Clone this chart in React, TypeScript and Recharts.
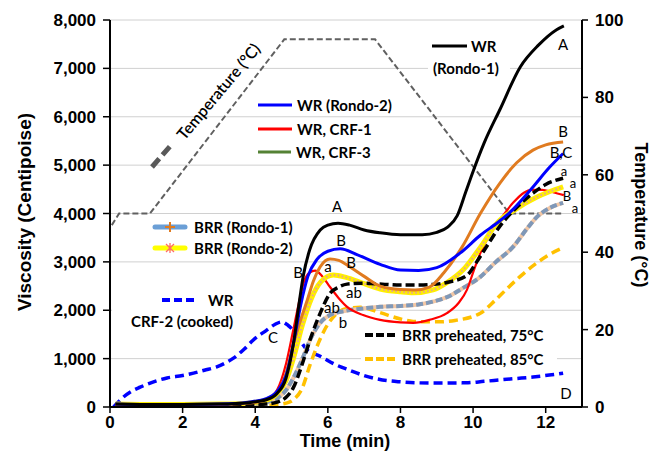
import React from 'react';
import { LineChart, Line, XAxis, YAxis, CartesianGrid } from 'recharts';

// ---- tick labels ----
const timeTicks = [0, 2, 4, 6, 8, 10, 12];
const viscosityTicks = [0, 1000, 2000, 3000, 4000, 5000, 6000, 7000, 8000];
const temperatureTicks = [0, 20, 40, 60, 80, 100];

// ---- series: [time (min), viscosity (cP)] ----
const wrRondo1: number[][] = [
  [0.15, 60], [1, 50], [2, 50], [3, 60], [3.8, 90], [4.3, 150], [4.6, 280], [4.85, 600], [5.05, 1300],
  [5.2, 2100], [5.32, 2700], [5.5, 3250], [5.79, 3660], [6.0, 3760], [6.28, 3800], [6.6, 3760], [7.0, 3660],
  [7.44, 3600], [8.0, 3560], [8.6, 3560], [9.0, 3610], [9.3, 3720], [9.56, 3950], [9.8, 4450], [10.0, 4870],
  [10.3, 5450], [10.74, 6150], [11.3, 7030], [11.8, 7480], [12.3, 7800], [12.5, 7880],
];
const wrRondo2: number[][] = [
  [0.15, 60], [1, 50], [2, 50], [3, 60], [3.8, 100], [4.3, 170], [4.6, 320], [4.85, 650], [5.05, 1300],
  [5.25, 2100], [5.45, 2700], [5.7, 3050], [6.0, 3220], [6.34, 3270], [6.8, 3150], [7.44, 2950], [8.0, 2830],
  [8.5, 2820], [9.0, 2880], [9.64, 3180], [10.2, 3550], [10.74, 3850], [11.05, 4050], [11.65, 4550],
  [12.1, 4950], [12.48, 5240],
];
const wrCrf1: number[][] = [
  [0.15, 40], [1, 30], [2, 30], [3, 40], [3.8, 70], [4.3, 150], [4.6, 350], [4.85, 900], [5.05, 1600],
  [5.23, 2250], [5.35, 2600], [5.5, 2780], [5.65, 2820], [5.85, 2700], [6.06, 2480], [6.3, 2250], [6.53, 2070],
  [6.97, 1900], [7.44, 1800], [8.0, 1750], [8.35, 1740], [8.8, 1800], [9.28, 1940], [9.6, 2150], [9.83, 2420],
  [10.0, 2780], [10.2, 3180], [10.45, 3550], [10.74, 3870], [11.1, 4220], [11.4, 4430], [11.6, 4490],
  [11.9, 4490], [12.2, 4440], [12.5, 4380],
];
const wrCrf3: number[][] = [
  [0.15, 50], [1, 40], [2, 40], [3, 50], [3.8, 80], [4.3, 150], [4.6, 300], [4.85, 700], [5.05, 1300],
  [5.25, 1800], [5.43, 2200], [5.6, 2600], [5.79, 2900], [6.06, 3060], [6.3, 3030], [6.6, 2900], [7.0, 2700],
  [7.44, 2500], [8.0, 2430], [8.4, 2420], [8.8, 2480], [9.2, 2780], [9.7, 3310], [10.2, 4000], [10.74, 4630],
  [11.2, 5050], [11.65, 5310], [12.0, 5420], [12.48, 5480],
];
const brrRondo1: number[][] = [
  [0.15, 40], [1, 30], [2, 30], [3, 40], [3.8, 60], [4.3, 100], [4.6, 180], [4.85, 350], [5.05, 600],
  [5.3, 1000], [5.55, 1450], [5.8, 1750], [6.06, 1900], [6.5, 1990], [7.0, 2040], [7.44, 2070], [8.0, 2090],
  [8.5, 2120], [9.0, 2200], [9.28, 2270], [9.7, 2450], [10.2, 2690], [10.6, 2980], [11.1, 3310], [11.5, 3700],
  [11.76, 3930], [12.1, 4110], [12.48, 4220],
];
const brrRondo2: number[][] = [
  [0.15, 60], [1, 50], [2, 50], [3, 60], [3.8, 80], [4.3, 140], [4.6, 280], [4.85, 550], [5.05, 1000],
  [5.3, 1700], [5.55, 2250], [5.8, 2580], [6.15, 2730], [6.5, 2680], [7.0, 2550], [7.44, 2440], [8.0, 2380],
  [8.35, 2360], [8.9, 2420], [9.3, 2580], [9.72, 2830], [10.2, 3300], [10.66, 3800], [11.2, 4100],
  [11.76, 4340], [12.1, 4450], [12.48, 4550],
];
const brrPre75: number[][] = [
  [0.15, 30], [1, 20], [2, 20], [3, 30], [3.8, 40], [4.3, 60], [4.6, 100], [4.85, 200], [5.05, 400],
  [5.3, 900], [5.51, 1390], [5.79, 1940], [6.06, 2350], [6.3, 2480], [6.53, 2540], [7.0, 2560], [7.5, 2540],
  [8.0, 2520], [8.5, 2520], [9.0, 2540], [9.3, 2580], [9.83, 2720], [10.1, 3000], [10.4, 3350], [10.75, 3750],
  [11.1, 4050], [11.65, 4420], [12.0, 4600], [12.48, 4730],
];
const brrPre85: number[][] = [
  [0.15, 20], [1, 15], [2, 15], [3, 20], [3.8, 25], [4.3, 35], [4.6, 50], [4.85, 80], [5.05, 150],
  [5.3, 400], [5.5, 850], [5.7, 1250], [5.9, 1580], [6.15, 1860], [6.5, 2030], [6.9, 2060], [7.44, 1950],
  [8.0, 1820], [8.35, 1770], [9.0, 1760], [9.5, 1790], [10.2, 1940], [10.6, 2200], [10.9, 2420], [11.3, 2700],
  [11.76, 2980], [12.1, 3150], [12.5, 3300],
];
const wrCrf2Cooked: number[][] = [
  [0.1, 0], [0.2, 80], [0.36, 200], [0.6, 330], [0.83, 410], [1.2, 520], [1.57, 600], [2.0, 650], [2.3, 700],
  [2.6, 760], [2.94, 830], [3.2, 920], [3.4, 1010], [3.7, 1200], [3.94, 1380], [4.3, 1580], [4.55, 1710],
  [4.73, 1760], [4.9, 1690], [5.04, 1590], [5.23, 1380], [5.43, 1180], [5.79, 1050], [6.2, 880], [6.6, 760],
  [7.0, 650], [7.5, 560], [8.0, 520], [8.45, 500], [9.0, 495], [9.8, 500], [10.3, 530], [10.74, 560],
  [11.2, 590], [11.65, 620], [12.1, 660], [12.48, 700],
];
// [time (min), temperature (°C)]
const temperature: number[][] = [
  [0.05, 47], [0.25, 50], [1.1, 50], [4.8, 95], [7.3, 95], [11.0, 50], [12.5, 50],
];

const pts = (arr: number[][], key: string) => arr.map(([t, v]) => ({ t, [key]: v }));

const TICK_FONT = { fontFamily: 'Liberation Sans, Arial, sans-serif', fontWeight: 700, fontSize: 17, fill: '#000' };
const NOTE_FONT = 'Lato, Calibri, sans-serif';

const notes: [string, number, number][] = [
  ['A', 563, 44], ['A', 337, 206], ['B', 341, 240], ['B', 298, 272], ['a', 328, 266], ['B', 351, 262],
  ['ab', 354, 292], ['ab', 332, 307], ['b', 343, 322], ['C', 273, 337], ['D', 566, 393],
  ['B', 563, 131], ['B,C', 561, 152],
];
const sideNotes: [string, number, number][] = [
  ['a', 564, 171], ['a', 573, 183], ['B', 567, 196], ['a', 575, 208],
];

function Overlay() {
  const lt = { fontFamily: NOTE_FONT, fontWeight: 700, fontSize: 15, fill: '#000' } as const;
  return (
    <svg width={656} height={462} style={{ position: 'absolute', left: 0, top: 0, pointerEvents: 'none' }}>
      {/* axis titles */}
      <text x={24} y={212} transform="rotate(-90 24 212)" textAnchor="middle" dominantBaseline="central"
        style={{ fontFamily: 'Liberation Sans, Arial, sans-serif', fontWeight: 700, fontSize: 19 }}>Viscosity (Centipoise)</text>
      <text x={641} y={215} transform="rotate(90 641 215)" textAnchor="middle" dominantBaseline="central"
        style={{ fontFamily: 'Liberation Sans, Arial, sans-serif', fontWeight: 700, fontSize: 18 }}>Temperature (°C)</text>
      <text x={345} y={441} textAnchor="middle" dominantBaseline="central"
        style={{ fontFamily: 'Liberation Sans, Arial, sans-serif', fontWeight: 700, fontSize: 18 }}>Time (min)</text>

      {/* temperature label */}
      <line x1={152} y1={167} x2={173} y2={143} stroke="#595959" strokeWidth={5} strokeDasharray="11 5" />
      <text x={218} y={91} transform="rotate(-50 218 91)" textAnchor="middle" dominantBaseline="central"
        style={{ fontFamily: NOTE_FONT, fontSize: 16, fontWeight: 600, fill: '#000' }}>Temperature (°C)</text>

      {/* WR (Rondo-1) */}
      <rect x={428} y={58} width={82} height={21} fill="#fff" />
      <line x1={432} y1={46} x2={467} y2={46} stroke="#000" strokeWidth={3} />
      <text x={471} y={46} dominantBaseline="central" style={lt}>WR</text>
      <text x={433} y={68} dominantBaseline="central" style={lt}>(Rondo-1)</text>

      {/* WR group */}
      <line x1={258} y1={105} x2={292} y2={105} stroke="#0000ff" strokeWidth={3} />
      <text x={297} y={105} dominantBaseline="central" style={lt}>WR (Rondo-2)</text>
      <line x1={258} y1={129} x2={292} y2={129} stroke="#ff0000" strokeWidth={3} />
      <text x={297} y={129} dominantBaseline="central" style={lt}>WR, CRF-1</text>
      <line x1={258} y1={152} x2={291} y2={152} stroke="#548235" strokeWidth={3} />
      <text x={296} y={152} dominantBaseline="central" style={lt}>WR, CRF-3</text>

      {/* BRR group */}
      <line x1={155} y1={227} x2={185} y2={227} stroke="#6b9fd6" strokeWidth={5} strokeLinecap="round" />
      <path d="M170 222 V232 M165 227 H175" stroke="#e07b20" strokeWidth={2} />
      <text x={194} y={227} dominantBaseline="central" style={lt}>BRR (Rondo-1)</text>
      <line x1={155} y1={248} x2={185} y2={248} stroke="#ffff00" strokeWidth={5} strokeLinecap="round" />
      <path d="M166 244 L174 252 M174 244 L166 252 M170 243 V253" stroke="#ff6b6b" strokeWidth={1.3} />
      <text x={194} y={248} dominantBaseline="central" style={lt}>BRR (Rondo-2)</text>

      {/* WR CRF-2 cooked */}
      <rect x={112} y={290} width={128} height={42} fill="#fff" />
      <line x1={162} y1={300} x2={196} y2={300} stroke="#0000ff" strokeWidth={4} strokeDasharray="8 4" />
      <text x={208} y={300} dominantBaseline="central" style={lt}>WR</text>
      <text x={131} y={321} dominantBaseline="central" style={lt}>CRF-2 (cooked)</text>

      {/* BRR preheated */}
      <rect x={361} y={326} width={196} height={42} fill="#fff" />
      <line x1={365} y1={335} x2={396} y2={335} stroke="#000" strokeWidth={4} strokeDasharray="8 3" />
      <text x={402} y={335} dominantBaseline="central" style={lt}>BRR preheated, 75°C</text>
      <line x1={365} y1={359} x2={396} y2={359} stroke="#ffc000" strokeWidth={4} strokeDasharray="8 3" />
      <text x={402} y={359} dominantBaseline="central" style={lt}>BRR preheated, 85°C</text>

      {notes.map(([s, x, y], i) => (
        <text key={i} x={x} y={y} textAnchor="middle" dominantBaseline="central"
          style={{ fontFamily: NOTE_FONT, fontSize: 15, fill: '#000' }}>{s}</text>
      ))}
      {sideNotes.map(([s, x, y], i) => (
        <text key={'s' + i} x={x} y={y} textAnchor="middle" dominantBaseline="central"
          style={{ fontFamily: NOTE_FONT, fontSize: 13, fill: '#000' }}>{s}</text>
      ))}
    </svg>
  );
}

export default function App() {
  return (
    <div style={{ position: 'absolute', left: 0, top: 0, width: 656, height: 462, background: '#fff' }}>
      <LineChart width={656} height={462} margin={{ top: 20, right: 0, bottom: 0, left: 0 }}>
        <CartesianGrid horizontal vertical={false} stroke="#d0d0d0" yAxisId="left" />
        <XAxis dataKey="t" type="number" domain={[0, 13]} ticks={timeTicks} allowDataOverflow height={55}
          tick={TICK_FONT} tickSize={6} tickMargin={3} axisLine={{ stroke: '#000', strokeWidth: 2 }}
          tickLine={{ stroke: '#000', strokeWidth: 1.5 }} />
        <YAxis yAxisId="left" orientation="left" domain={[0, 8000]} ticks={viscosityTicks} width={110}
          tickFormatter={(v: number) => v.toLocaleString('en-US')} tick={TICK_FONT} tickSize={7} tickMargin={7}
          axisLine={{ stroke: '#000', strokeWidth: 2 }} tickLine={{ stroke: '#000', strokeWidth: 1.5 }}
          allowDataOverflow />
        <YAxis yAxisId="right" orientation="right" domain={[0, 100]} ticks={temperatureTicks} width={74}
          tick={TICK_FONT} tickSize={6} tickMargin={7} axisLine={{ stroke: '#000', strokeWidth: 2 }}
          tickLine={{ stroke: '#000', strokeWidth: 1.5 }} allowDataOverflow />

        <Line yAxisId="right" data={pts(temperature, 'temp')} dataKey="temp" type="linear" stroke="#606060"
          strokeWidth={2} strokeDasharray="6 3" dot={false} isAnimationActive={false} />

        <Line yAxisId="left" data={pts(wrCrf2Cooked, 'crf2')} dataKey="crf2" type="monotone" stroke="#0000ff"
          strokeWidth={3.5} strokeDasharray="9 5" dot={false} isAnimationActive={false} />

        <Line yAxisId="left" data={pts(brrPre85, 'p85')} dataKey="p85" type="monotone" stroke="#ffc000"
          strokeWidth={3.5} strokeDasharray="9 5" dot={false} isAnimationActive={false} />

        <Line yAxisId="left" data={pts(brrRondo1, 'br1b')} dataKey="br1b" type="monotone" stroke="#f2c7a5"
          strokeWidth={4} dot={false} isAnimationActive={false} />
        <Line yAxisId="left" data={pts(brrRondo1, 'br1')} dataKey="br1" type="monotone" stroke="#7f98b8"
          strokeWidth={4} strokeDasharray="7 3" dot={false} isAnimationActive={false} />

        <Line yAxisId="left" data={pts(wrCrf1, 'crf1')} dataKey="crf1" type="monotone" stroke="#ff0000"
          strokeWidth={2.2} dot={false} isAnimationActive={false} />

        <Line yAxisId="left" data={pts(brrRondo2, 'br2b')} dataKey="br2b" type="monotone" stroke="#ffee00"
          strokeWidth={5} dot={false} isAnimationActive={false} />
        <Line yAxisId="left" data={pts(brrRondo2, 'br2')} dataKey="br2" type="monotone" stroke="#e0a0a0"
          strokeWidth={2} strokeDasharray="1.5 2.5" dot={false} isAnimationActive={false} />

        <Line yAxisId="left" data={pts(brrPre75, 'p75')} dataKey="p75" type="monotone" stroke="#000"
          strokeWidth={3.5} strokeDasharray="9 4" dot={false} isAnimationActive={false} />

        <Line yAxisId="left" data={pts(wrCrf3, 'crf3')} dataKey="crf3" type="monotone" stroke="#e07b20"
          strokeWidth={3} dot={false} isAnimationActive={false} />
        <Line yAxisId="left" data={pts(wrRondo2, 'r2')} dataKey="r2" type="monotone" stroke="#0000ff"
          strokeWidth={3} dot={false} isAnimationActive={false} />
        <Line yAxisId="left" data={pts(wrRondo1, 'r1')} dataKey="r1" type="monotone" stroke="#000"
          strokeWidth={3} dot={false} isAnimationActive={false} />
      </LineChart>
      <Overlay />
    </div>
  );
}
